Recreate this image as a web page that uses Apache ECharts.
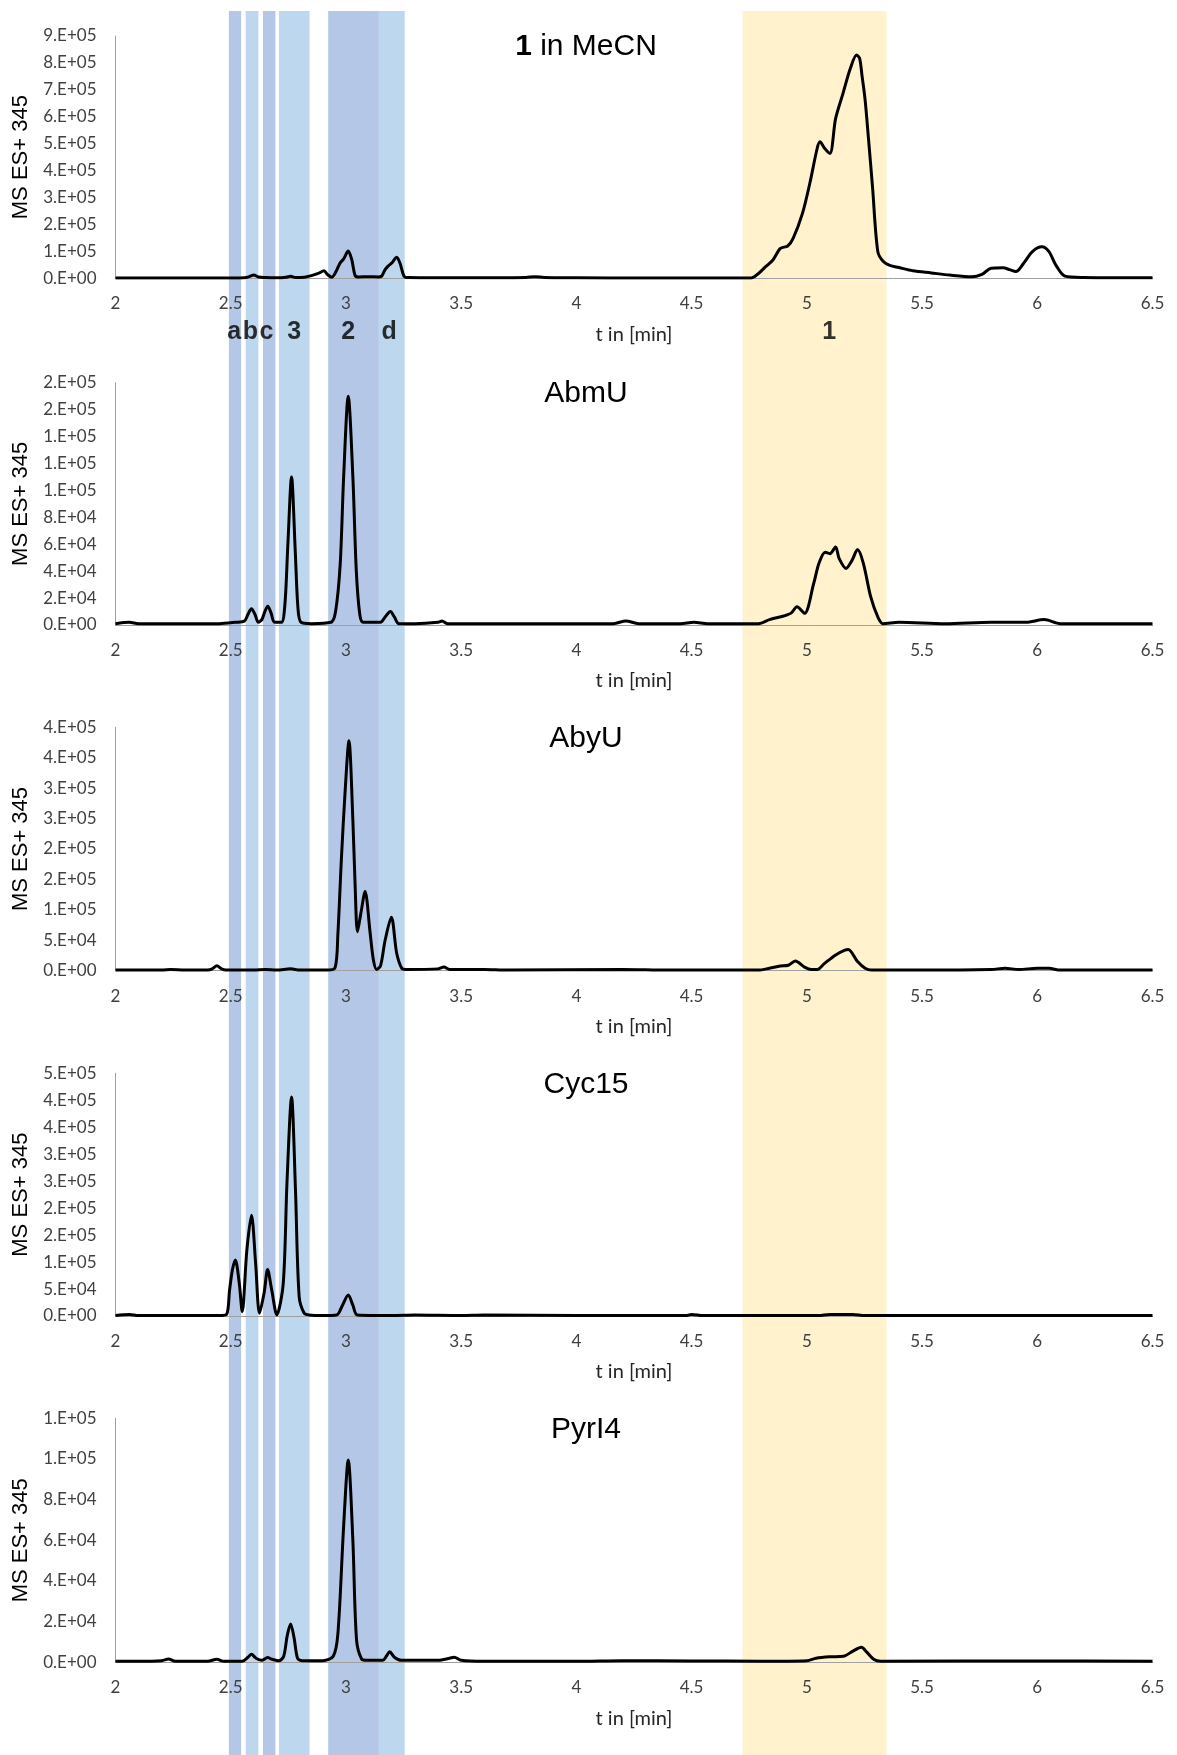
<!DOCTYPE html>
<html><head><meta charset="utf-8">
<script src="https://cdn.jsdelivr.net/npm/echarts@6/dist/echarts.min.js"></script>
<style>html,body{margin:0;padding:0;background:#fff}#c{width:1177px;height:1755px}</style>
</head><body><div id="c"></div>
<script>
// ---------- data (t in min, MS ES+ 345 intensity) ----------
const mecn = [[2.00,1e3],[2.20,1e3],[2.40,1e3],[2.50,1e3],[2.56,2e3],[2.58,6e3],[2.60,12e3],[2.62,5e3],[2.65,3e3],[2.70,2e3],[2.74,4e3],[2.76,8e3],[2.78,3e3],[2.82,4e3],[2.85,10e3],[2.88,18e3],[2.905,28e3],[2.92,14e3],[2.938,4e3],[2.955,22e3],[2.974,56e3],[2.99,72e3],[3.01,101e3],[3.025,70e3],[3.04,10e3],[3.055,5e3],[3.10,6e3],[3.14,5e3],[3.155,8e3],[3.17,32e3],[3.184,46e3],[3.20,58e3],[3.22,78e3],[3.235,55e3],[3.252,8e3],[3.27,3e3],[3.40,2e3],[3.60,2e3],[3.78,3e3],[3.82,6e3],[3.86,3e3],[4.00,2e3],[4.30,1e3],[4.60,1e3],[4.758,1e3],[4.79,18e3],[4.821,43e3],[4.853,68e3],[4.885,111e3],[4.917,120e3],[4.941,149e3],[4.981,241e3],[5.013,353e3],[5.045,483e3],[5.057,507e3],[5.077,483e3],[5.10,464e3],[5.125,594e3],[5.157,687e3],[5.189,780e3],[5.216,829e3],[5.229,817e3],[5.24,749e3],[5.253,662e3],[5.268,514e3],[5.285,340e3],[5.308,99e3],[5.332,62e3],[5.36,48e3],[5.40,40e3],[5.46,28e3],[5.54,20e3],[5.62,12e3],[5.716,6e3],[5.76,15e3],[5.80,37e3],[5.852,39e3],[5.88,32e3],[5.907,25e3],[5.94,55e3],[5.98,100e3],[6.02,117e3],[6.05,100e3],[6.08,50e3],[6.12,8e3],[6.20,3e3],[6.40,2e3],[6.50,2e3]];

const abmu = [[2.00,1e3],[2.06,2e3],[2.10,1e3],[2.30,1e3],[2.45,1e3],[2.52,2e3],[2.56,3e3],[2.575,8e3],[2.59,12e3],[2.605,8e3],[2.62,2e3],[2.635,4e3],[2.648,10e3],[2.661,14e3],[2.675,9e3],[2.69,2e3],[2.72,2e3],[2.735,15e3],[2.748,60e3],[2.764,110e3],[2.78,55e3],[2.792,12e3],[2.805,2e3],[2.85,1e3],[2.935,2e3],[2.955,10e3],[2.975,45e3],[2.99,110e3],[3.01,170e3],[3.03,110e3],[3.045,40e3],[3.06,8e3],[3.075,2e3],[3.15,2e3],[3.17,6e3],[3.193,10e3],[3.21,6e3],[3.23,1e3],[3.30,1e3],[3.40,2e3],[3.417,3e3],[3.44,1e3],[3.80,1e3],[4.16,1e3],[4.215,3e3],[4.27,1e3],[4.45,1e3],[4.51,2e3],[4.57,1e3],[4.79,1e3],[4.838,4e3],[4.90,6.7e3],[4.933,9e3],[4.957,13.6e3],[4.99,8.7e3],[5.03,31e3],[5.053,46e3],[5.08,54e3],[5.10,53e3],[5.125,58e3],[5.14,49.5e3],[5.17,42e3],[5.196,48e3],[5.22,56e3],[5.245,46e3],[5.277,21e3],[5.308,6e3],[5.33,1e3],[5.40,2e3],[5.60,1e3],[5.80,2e3],[5.95,2e3],[6.03,4e3],[6.10,1e3],[6.30,1e3],[6.50,1e3]];

const abyu = [[2.00,1e3],[2.20,1e3],[2.24,2e3],[2.30,1e3],[2.40,1e3],[2.42,3e3],[2.44,8e3],[2.46,3e3],[2.48,1e3],[2.60,1e3],[2.65,2e3],[2.70,1e3],[2.76,3e3],[2.80,1e3],[2.92,1e3],[2.953,5e3],[2.965,60e3],[2.98,182e3],[2.996,292e3],[3.013,378e3],[3.03,248e3],[3.04,138e3],[3.05,64e3],[3.065,95e3],[3.083,130e3],[3.105,62e3],[3.119,18e3],[3.133,2e3],[3.15,8e3],[3.17,50e3],[3.197,88e3],[3.22,29e3],[3.242,4e3],[3.26,2e3],[3.40,3e3],[3.425,6e3],[3.45,2e3],[3.60,2e3],[3.70,1e3],[4.20,2e3],[4.40,1e3],[4.75,1e3],[4.79,1e3],[4.838,4e3],[4.885,7.6e3],[4.92,9e3],[4.95,16e3],[4.99,6e3],[5.02,2e3],[5.045,2e3],[5.077,12e3],[5.125,26e3],[5.165,34e3],[5.18,35e3],[5.22,15e3],[5.253,4e3],[5.28,1e3],[5.50,1e3],[5.80,2e3],[5.86,4e3],[5.92,2e3],[6.00,4e3],[6.05,4e3],[6.10,1e3],[6.50,1e3]];

const cyc15 = [[2.00,1e3],[2.06,3e3],[2.10,1e3],[2.30,1e3],[2.45,1e3],[2.482,3e3],[2.495,48e3],[2.507,85e3],[2.52,104e3],[2.537,61e3],[2.55,8e3],[2.57,122e3],[2.59,187e3],[2.608,98e3],[2.625,5e3],[2.645,43e3],[2.66,86e3],[2.678,48e3],[2.70,2e3],[2.728,61e3],[2.744,246e3],[2.764,406e3],[2.781,234e3],[2.797,36e3],[2.819,5e3],[2.84,2e3],[2.90,1e3],[2.96,2e3],[2.985,20e3],[3.01,39e3],[3.03,20e3],[3.05,2e3],[3.20,1e3],[3.30,2e3],[3.50,1e3],[3.60,2e3],[4.00,1e3],[4.48,1e3],[4.50,3e3],[4.55,1e3],[5.05,1e3],[5.10,3e3],[5.20,3e3],[5.25,1e3],[6.50,1e3]];

const pyri4 = [[2.00,0.5e3],[2.10,0.5e3],[2.20,0.8e3],[2.23,1.6e3],[2.26,0.5e3],[2.40,0.5e3],[2.44,1.5e3],[2.47,0.5e3],[2.55,0.5e3],[2.575,2.5e3],[2.59,3.9e3],[2.61,2e3],[2.635,1e3],[2.66,2.3e3],[2.68,1.5e3],[2.71,0.8e3],[2.73,3e3],[2.745,13e3],[2.76,18.8e3],[2.775,12e3],[2.79,2e3],[2.81,0.8e3],[2.90,0.8e3],[2.945,3e3],[2.965,14e3],[2.99,67e3],[3.01,99.5e3],[3.03,60e3],[3.046,11e3],[3.068,1.6e3],[3.09,1e3],[3.16,1e3],[3.175,3e3],[3.19,5.2e3],[3.21,2.5e3],[3.24,1e3],[3.40,1e3],[3.45,2e3],[3.47,2.5e3],[3.50,1e3],[3.60,0.5e3],[4.00,0.5e3],[4.20,0.8e3],[4.50,0.7e3],[4.80,0.5e3],[5.00,0.8e3],[5.04,2e3],[5.10,2.7e3],[5.16,3e3],[5.20,5.5e3],[5.237,7.4e3],[5.26,5e3],[5.29,1.5e3],[5.32,0.5e3],[6.00,0.7e3],[6.50,0.5e3]];

const panelTitles = ['{b|1} in MeCN', 'AbmU', 'AbyU', 'Cyc15', 'PyrI4'];
const panelMax = [9e5, 1.8e5, 4e5, 4.5e5, 1.2e5];
const panelInterval = [1e5, 2e4, 5e4, 5e4, 2e4];
const ticks1 = ['0.E+00','1.E+05','2.E+05','3.E+05','4.E+05','5.E+05','6.E+05','7.E+05','8.E+05','9.E+05'];
const ticks2 = ['0.E+00','2.E+04','4.E+04','6.E+04','8.E+04','1.E+05','1.E+05','1.E+05','2.E+05','2.E+05'];
const ticks3 = ['0.E+00','5.E+04','1.E+05','2.E+05','2.E+05','3.E+05','3.E+05','4.E+05','4.E+05'];
const ticks4 = ['0.E+00','5.E+04','1.E+05','2.E+05','2.E+05','3.E+05','3.E+05','4.E+05','4.E+05','5.E+05'];
const ticks5 = ['0.E+00','2.E+04','4.E+04','6.E+04','8.E+04','1.E+05','1.E+05'];

// highlighted retention-time windows
const bandStart = [2.492, 2.565, 2.640, 2.709, 2.923, 3.143, 4.721];
const bandEnd   = [2.545, 2.620, 2.694, 2.842, 3.143, 3.255, 5.346];
const bandColor = ['#b4c7e7','#bdd7ee','#b4c7e7','#bdd7ee','#b4c7e7','#bdd7ee','#fff2cc'];
const peakNames = ['a','b','c','3','2','d','1'];
const peakTimes = [2.515, 2.585, 2.655, 2.775, 3.01, 3.187, 5.097];

// ---------- layout ----------
const series = [mecn, abmu, abyu, cyc15, pyri4];
const tickSets = [ticks1, ticks2, ticks3, ticks4, ticks5];
const gTop = [36, 382.7, 727.3, 1073.3, 1418.3];
const gH = [242.3, 242.3, 243.4, 242.7, 244];
const L = 115.5, R = 24.5;
const labelRow = 321; // px below band-grid top
const tickFont = 'Lato, "Open Sans", sans-serif';
const arial = '"Liberation Sans", Arial, sans-serif';

const grid = [{left: L, right: R, top: 11, bottom: 0}];
const xAxis = [{type:'value', gridIndex:0, min:2, max:6.5, show:false}];
const yAxis = [{type:'value', gridIndex:0, min:0, max:1744, inverse:true, show:false}];
const title = [];
const opt_series = [{
  type:'line', xAxisIndex:0, yAxisIndex:0, data:[], silent:true, z:0,
  markArea:{silent:true, z:0, itemStyle:{opacity:1},
    data: bandStart.map((s,i)=>[{xAxis:s, itemStyle:{color:bandColor[i], opacity:1}},{xAxis:bandEnd[i]}])}
},{
  type:'scatter', xAxisIndex:0, yAxisIndex:0, symbolSize:0, silent:true, z:3,
  data: peakTimes.map((t,i)=>({value:[t, labelRow], name:peakNames[i]})),
  label:{show:true, position:'inside', formatter:'{b}', color:'#000', fontFamily:arial, fontWeight:'bold', fontSize:25}
}];

for (let i = 0; i < 5; i++) {
  const gi = i + 1;
  grid.push({left: L, right: R, top: gTop[i], height: gH[i]});
  xAxis.push({type:'value', gridIndex:gi, min:2, max:6.5, interval:0.5,
    axisLine:{show:true, onZero:false, lineStyle:{color:'#a0a0a0', width:1}},
    axisTick:{show:false}, splitLine:{show:false},
    axisLabel:{color:'#404040', fontFamily:tickFont, fontSize:17, margin:17},
    name:'t in [min]', nameLocation:'middle', nameGap:46,
    nameTextStyle:{color:'#262626', fontFamily:tickFont, fontSize:20}});
  const tk = tickSets[i], iv = panelInterval[i];
  yAxis.push({type:'value', gridIndex:gi, min:0, max:panelMax[i], interval:iv,
    axisLine:{show:true, lineStyle:{color:'#a0a0a0', width:1}},
    axisTick:{show:false}, splitLine:{show:false},
    axisLabel:{color:'#404040', fontFamily:tickFont, fontSize:17, margin:19,
      formatter:(v)=>tk[Math.round(v/iv)]},
    name:'MS ES+ 345', nameLocation:'middle', nameRotate:90, nameGap:80,
    nameTextStyle:{color:'#000', fontFamily:arial, fontSize:22}});
  title.push({text:panelTitles[i], left:586, top:gTop[i]-4, textAlign:'center', padding:0,
    textStyle:{color:'#000', fontFamily:arial, fontSize:30, fontWeight:'normal',
      rich:{b:{fontFamily:arial, fontSize:30, fontWeight:'bold', color:'#000'}}}});
  opt_series.push({type:'line', xAxisIndex:gi, yAxisIndex:gi, data:series[i],
    showSymbol:false, smooth:0.3, z:5, silent:true,
    lineStyle:{color:'#000', width:3}});
}

const chart = echarts.init(document.getElementById('c'), null, {renderer:'canvas'});
chart.setOption({backgroundColor:'#fff', animation:false, title, grid, xAxis, yAxis, series:opt_series});
</script></body></html>
